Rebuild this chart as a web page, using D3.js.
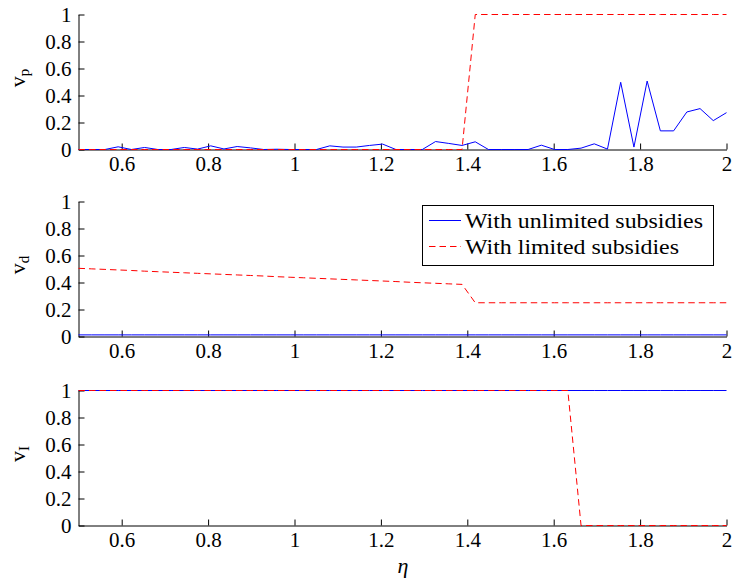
<!DOCTYPE html>
<html>
<head>
<meta charset="utf-8">
<script src="https://cdn.jsdelivr.net/npm/d3@7/dist/d3.min.js"></script>
<style>
  html, body { margin: 0; padding: 0; background: #fff; }
  svg { display: block; }
</style>
</head>
<body>
<svg id="chart" width="733" height="584" font-family="Liberation Serif"></svg>
<script>
// Grid of eta values (50 samples from 0.5 to 2)
const eta = [
  0.5000, 0.5306, 0.5612, 0.5918, 0.6224, 0.6531, 0.6837, 0.7143, 0.7449, 0.7755,
  0.8061, 0.8367, 0.8673, 0.8980, 0.9286, 0.9592, 0.9898, 1.0204, 1.0510, 1.0816,
  1.1122, 1.1429, 1.1735, 1.2041, 1.2347, 1.2653, 1.2959, 1.3265, 1.3571, 1.3878,
  1.4184, 1.4490, 1.4796, 1.5102, 1.5408, 1.5714, 1.6020, 1.6327, 1.6633, 1.6939,
  1.7245, 1.7551, 1.7857, 1.8163, 1.8469, 1.8776, 1.9082, 1.9388, 1.9694, 2.0000
];

// v_p
const vpUnlimited = [
  0, 0, 0, 0.020, 0, 0.015, 0, 0, 0.015, 0.003,
  0.027, 0.004, 0.022, 0.012, 0, 0.002, 0, 0, 0, 0.027,
  0.018, 0.018, 0.030, 0.040, 0, 0, 0, 0.059, 0.045, 0.030,
  0.057, 0, 0, 0, 0, 0.032, 0, 0, 0.010, 0.042,
  0.003, 0.498, 0.018, 0.507, 0.138, 0.138, 0.278, 0.303, 0.214, 0.273
];
const vpLimited = [
  0, 0, 0, 0, 0, 0, 0, 0, 0, 0,
  0, 0, 0, 0, 0, 0, 0, 0, 0, 0,
  0, 0, 0, 0, 0, 0, 0, 0, 0, 0,
  1, 1, 1, 1, 1, 1, 1, 1, 1, 1,
  1, 1, 1, 1, 1, 1, 1, 1, 1, 1
];

// v_d
const vdUnlimited = [
  0.012, 0.012, 0.012, 0.012, 0.012, 0.012, 0.012, 0.012, 0.012, 0.012,
  0.012, 0.012, 0.012, 0.012, 0.012, 0.012, 0.012, 0.012, 0.012, 0.012,
  0.012, 0.012, 0.012, 0.012, 0.012, 0.012, 0.012, 0.012, 0.012, 0.012,
  0.012, 0.012, 0.012, 0.012, 0.012, 0.012, 0.012, 0.012, 0.012, 0.012,
  0.012, 0.012, 0.012, 0.012, 0.012, 0.012, 0.012, 0.012, 0.012, 0.012
];
const vdLimited = [
  0.505, 0.501, 0.497, 0.493, 0.489, 0.484, 0.480, 0.476, 0.472, 0.468,
  0.464, 0.460, 0.456, 0.452, 0.448, 0.443, 0.439, 0.435, 0.431, 0.427,
  0.423, 0.419, 0.415, 0.411, 0.407, 0.402, 0.398, 0.394, 0.390, 0.386,
  0.25, 0.25, 0.25, 0.25, 0.25, 0.25, 0.25, 0.25, 0.25, 0.25,
  0.25, 0.25, 0.25, 0.25, 0.25, 0.25, 0.25, 0.25, 0.25, 0.25
];

// v_I
const vIUnlimited = [
  1, 1, 1, 1, 1, 1, 1, 1, 1, 1,
  1, 1, 1, 1, 1, 1, 1, 1, 1, 1,
  1, 1, 1, 1, 1, 1, 1, 1, 1, 1,
  1, 1, 1, 1, 1, 1, 1, 1, 1, 1,
  1, 1, 1, 1, 1, 1, 1, 1, 1, 1
];
const vILimited = [
  1, 1, 1, 1, 1, 1, 1, 1, 1, 1,
  1, 1, 1, 1, 1, 1, 1, 1, 1, 1,
  1, 1, 1, 1, 1, 1, 1, 1, 1, 1,
  1, 1, 1, 1, 1, 1, 1, 1, 0, 0,
  0, 0, 0, 0, 0, 0, 0, 0, 0, 0
];

const xTicks = [0.6, 0.8, 1, 1.2, 1.4, 1.6, 1.8, 2];
const yTicks = [0, 0.2, 0.4, 0.6, 0.8, 1];
const seriesNames = ["With unlimited subsidies", "With limited subsidies"];
const panelLabels = [["v", "p"], ["v", "d"], ["v", "I"]];

const BLUE = "#0000ff", RED = "#ff0000", DASH = "6.5,4";
const FONT = "Liberation Serif";

const svg = d3.select("#chart");
const x = d3.scaleLinear().domain([0.5, 2]).range([78.5, 726.5]);

const panels = [
  { label: panelLabels[0], a: vpUnlimited, b: vpLimited, range: [149.5, 14.5] },
  { label: panelLabels[1], a: vdUnlimited, b: vdLimited, range: [336.5, 201.5] },
  { label: panelLabels[2], a: vIUnlimited, b: vILimited, range: [525.5, 390.5] }
];

const fmt = d => String(+d.toFixed(1));

panels.forEach(p => {
  const y = d3.scaleLinear().domain([0, 1]).range(p.range);
  const g = svg.append("g");

  // x axis with inward ticks
  const gx = g.append("g")
    .attr("transform", `translate(0,${p.range[0]})`)
    .call(d3.axisBottom(x).tickValues(xTicks).tickFormat(fmt).tickSizeInner(-6).tickSizeOuter(0));
  gx.selectAll("text").attr("y", 21.5).attr("dy", null);

  // y axis with inward ticks
  const gy = g.append("g")
    .attr("transform", `translate(${x.range()[0]},0)`)
    .call(d3.axisLeft(y).tickValues(yTicks).tickFormat(fmt).tickSizeInner(-6).tickSizeOuter(0));
  gy.selectAll("text").attr("x", -7).attr("dy", "0.33em");

  [gx, gy].forEach(ax => {
    ax.attr("font-family", FONT).attr("font-size", 21);
    ax.selectAll("text").attr("font-family", FONT).attr("font-size", 21).attr("fill", "#000");
    ax.select(".domain").attr("stroke", "#000").attr("stroke-width", 1);
    ax.selectAll(".tick line").attr("stroke", "#000").attr("stroke-width", 1);
  });

  const line = vals => d3.line().x((d, i) => x(eta[i])).y(d => y(d))(vals);

  g.append("path").attr("d", line(p.a))
    .attr("fill", "none").attr("stroke", BLUE).attr("stroke-width", 1);
  g.append("path").attr("d", line(p.b))
    .attr("fill", "none").attr("stroke", RED).attr("stroke-width", 1)
    .attr("stroke-dasharray", DASH);

  // rotated axis title with subscript
  const cy = (p.range[0] + p.range[1]) / 2 - 4;
  const t = svg.append("text")
    .attr("transform", `translate(25,${cy}) rotate(-90)`)
    .attr("text-anchor", "middle")
    .attr("font-family", FONT)
    .attr("font-size", 22);
  t.append("tspan").text(p.label[0]);
  t.append("tspan").attr("dy", 4).attr("font-size", 15).text(p.label[1]);
});

// x axis title
svg.append("text")
  .attr("x", 403).attr("y", 573)
  .attr("text-anchor", "middle")
  .attr("font-family", FONT)
  .attr("font-size", 22).attr("font-style", "italic")
  .text("η");

// legend
const lg = svg.append("g");
lg.append("rect")
  .attr("x", 422.5).attr("y", 205.5).attr("width", 291).attr("height", 60)
  .attr("fill", "#fff").attr("stroke", "#000").attr("stroke-width", 1);
const legendRows = [
  { name: seriesNames[0], color: BLUE, dash: null, y: 220.5 },
  { name: seriesNames[1], color: RED, dash: DASH, y: 246.5 }
];
legendRows.forEach((r, i) => {
  lg.append("line")
    .attr("x1", 429).attr("x2", 461).attr("y1", r.y).attr("y2", r.y)
    .attr("stroke", r.color).attr("stroke-width", 1)
    .attr("stroke-dasharray", r.dash);
  lg.append("text")
    .attr("x", 465).attr("y", r.y + 7)
    .attr("font-family", FONT)
    .attr("font-size", 22)
    .attr("textLength", i === 0 ? 238 : 214)
    .attr("lengthAdjust", "spacingAndGlyphs")
    .text(r.name);
});
</script>
</body>
</html>
